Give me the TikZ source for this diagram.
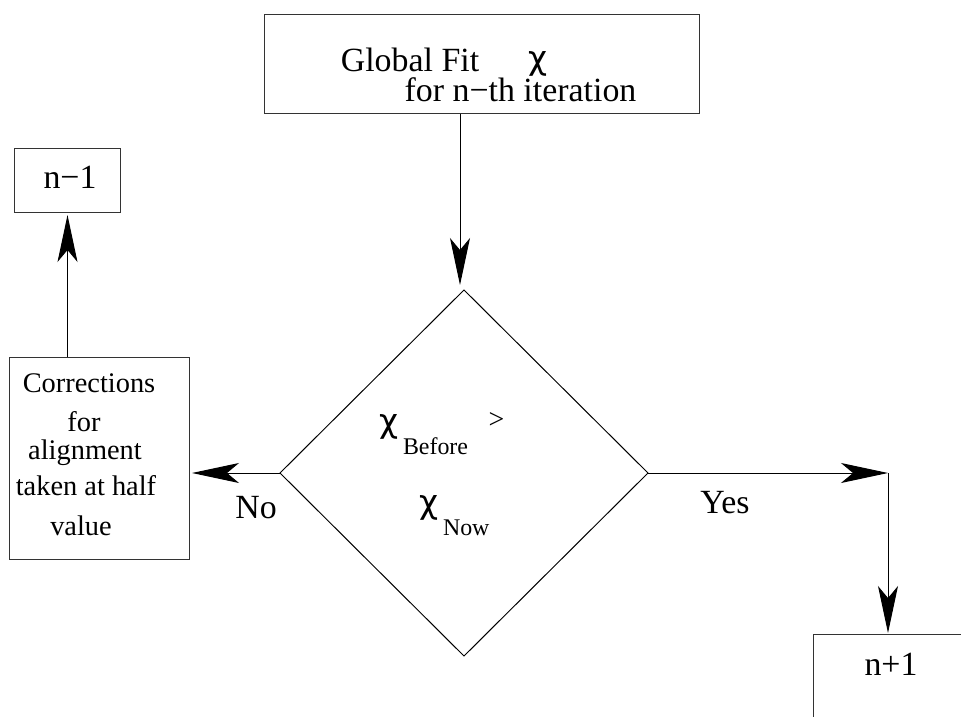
\documentclass[tikz,border=0pt]{standalone}
\usepackage{fontspec}
\setmainfont{Liberation Serif}
\newfontfamily\chifont{DejaVu Sans}
\usetikzlibrary{arrows.meta,shapes.geometric}
\begin{document}
\begin{tikzpicture}[x=1bp,y=-1bp,
  box/.style={draw=black!80,line width=1bp,inner sep=0,outer sep=0,anchor=center},
  txt/.style={inner sep=0,outer sep=0,anchor=base},
  chi/.style={inner sep=0,outer sep=0,anchor=center,font=\chifont\fontsize{33}{38}\selectfont},
  big/.style={font=\fontsize{34}{40}\selectfont},
  mid/.style={font=\fontsize{28.5}{34}\selectfont},
  sml/.style={font=\fontsize{24}{28}\selectfont},
  arr/.style={line width=1bp,-{Stealth[length=47bp,width=20bp,inset=12bp]}}]
\useasboundingbox (0,0) rectangle (961,717);
% boxes
\node[box,minimum width=435bp,minimum height=99bp] (top) at (481.5,64.5) {};
\node[box,minimum width=105bp,minimum height=63bp] (n1) at (67.5,180.5) {};
\node[box,minimum width=179bp,minimum height=202bp] (corr) at (99.5,458) {};
\node[box,minimum width=200bp,minimum height=120bp] (np1) at (913,694) {};
\node[draw,line width=1bp,diamond,inner sep=0,outer sep=0,minimum width=368bp,minimum height=366bp] (dia) at (464,473) {};
% texts
\node[txt,big] (t1) at (410,72) {Global Fit};
\node[chi] (t2) at (538,63.5) {χ};
\node[txt,big] (t3) at (520.5,102) {for n−th iteration};
\node[txt,big] (tn1) at (70,189) {n−1};
\node[txt,mid] (c1) at (89,392) {Corrections};
\node[txt,mid] (c2) at (84,431) {for};
\node[txt,mid] (c3) at (85,459) {alignment};
\node[txt,mid] (c4) at (86,495) {taken at half};
\node[txt,mid] (c5) at (81,535) {value};
\node[chi] (x1) at (389,427) {χ};
\node[txt,sml,anchor=base west] (b1) at (403,454) {Before};
\node[inner sep=0,outer sep=0,font=\fontsize{28}{32}\selectfont] (gt) at (496.5,420.5) {>};
\node[chi] (x2) at (429,507.5) {χ};
\node[txt,sml,anchor=base west] (b2) at (443,535) {Now};
\node[txt,big] (no) at (256,518) {No};
\node[txt,big] (yes) at (725,513) {Yes};
\node[txt,big] (tnp1) at (891,675) {n+1};
% connectors
\coordinate (a1) at (460,114);
\draw[arr,shorten >=5bp] (a1) -- (a1 |- dia.north);
\draw[arr,shorten >=3bp] (n1.south |- corr.north) -- (n1.south);
\draw[arr,shorten >=3bp] (dia.west) -- (dia.west -| corr.east);
\coordinate (yc) at (888,473);
\draw[arr] (dia.east) -- (yc);
\draw[arr,shorten >=1bp] (yc) -- (yc |- np1.north);
\end{tikzpicture}
\end{document}
